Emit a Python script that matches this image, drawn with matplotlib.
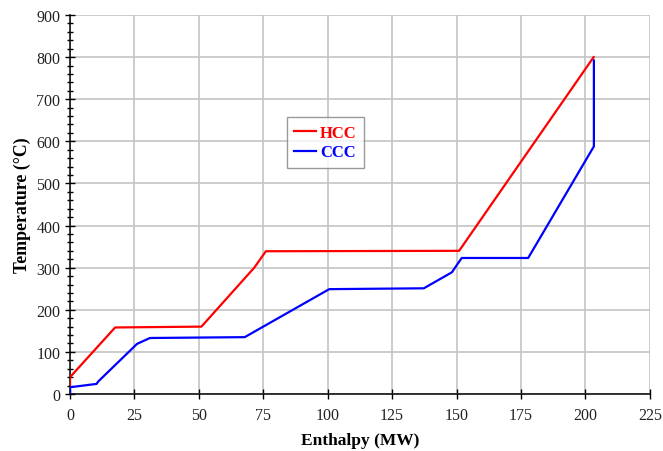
import matplotlib
matplotlib.use('Agg')
import matplotlib.pyplot as plt
from matplotlib.ticker import MultipleLocator

# curvas compostas (entalpia em MW, temperatura em C)
hcc_h = [0, 0, 17.5, 51.0, 71.5, 76.0, 151.0, 203.2]
hcc_t = [20, 40, 158, 160, 300, 339, 340, 800]

ccc_h = [0, 0, 10.3, 11.0, 26.0, 31.0, 67.8, 100.6, 137.3, 148.2, 152.0, 177.8, 203.3, 203.3]
ccc_t = [0, 16, 24, 30, 119, 133, 135, 249, 251, 289, 323, 323, 588, 792]

x_ticks = [0, 25, 50, 75, 100, 125, 150, 175, 200, 225]
y_ticks = [0, 100, 200, 300, 400, 500, 600, 700, 800, 900]

plt.rcParams['font.family'] = ['Liberation Serif', 'DejaVu Serif']

fig = plt.figure(figsize=(6.63, 4.52), dpi=100)
ax = fig.add_axes([0.1056, 0.1261, 0.8745, 0.8385])

ax.plot(hcc_h, hcc_t, color='#ff0000', linewidth=1.6, label='HCC', zorder=3)
ax.plot(ccc_h, ccc_t, color='#0000ff', linewidth=1.6, label='CCC', zorder=3)

ax.set_xlim(0, 225)
ax.set_ylim(0, 900)
ax.set_xticks(x_ticks)
ax.set_yticks(y_ticks)
ax.yaxis.set_minor_locator(MultipleLocator(20))
ax.tick_params(axis='both', which='major', direction='inout', length=7, width=1,
               labelsize=11.5, colors='black', labelcolor='#222222')
ax.tick_params(axis='y', which='minor', direction='inout', length=5, width=1)
ax.tick_params(axis='x', pad=6)

ax.grid(True, color='#c4c4c4', linewidth=1.2, zorder=0)
ax.set_axisbelow(True)
for s in ['top', 'right']:
    ax.spines[s].set_visible(False)
for s in ['left', 'bottom']:
    ax.spines[s].set_linewidth(1.1)

ax.set_xlabel('Enthalpy (MW)', fontsize=12.5, fontweight='bold', labelpad=6)
ax.set_ylabel('Temperature (°C)', fontsize=12.8, fontweight='bold', labelpad=4)

leg = ax.legend(loc='upper left', bbox_to_anchor=(0.374, 0.73),
                prop={'weight': 'bold', 'size': 12}, frameon=True, fancybox=False,
                edgecolor='#808080', handlelength=1.3, handletextpad=0.25,
                borderpad=0.45, labelspacing=0.22, borderaxespad=0)
leg.get_frame().set_linewidth(1.0)
for txt, c in zip(leg.get_texts(), ['#ff0000', '#0000ff']):
    txt.set_color(c)

fig.savefig('out.png', dpi=100)
